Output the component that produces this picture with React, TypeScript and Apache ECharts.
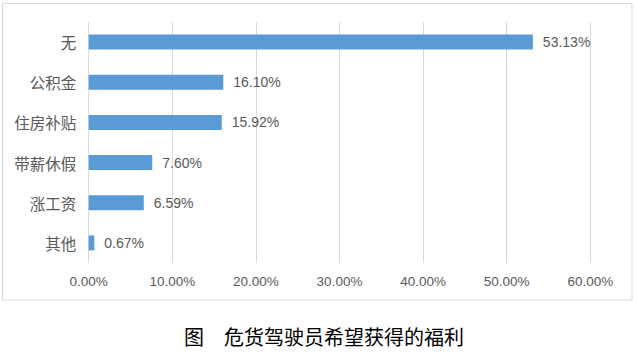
import React, { useEffect, useRef } from "react";
import * as echarts from "echarts";

const categories = ["无", "公积金", "住房补贴", "带薪休假", "涨工资", "其他"];
const values = [53.13, 16.1, 15.92, 7.6, 6.59, 0.67];
const titleText = "图　危货驾驶员希望获得的福利";

const LATIN = "'Liberation Sans', Arial, sans-serif";
const CJK = "'Noto Sans CJK SC', sans-serif";

export default function App() {
  const ref = useRef<HTMLDivElement>(null);
  useEffect(() => {
    if (!ref.current) return;
    const chart = echarts.init(ref.current, undefined, { renderer: "svg" });
    chart.setOption({
      animation: false,
      backgroundColor: "#ffffff",
      grid: { left: 88.7, right: 46.7, top: 22, bottom: 94, containLabel: false },
      xAxis: {
        type: "value",
        min: 0,
        max: 60,
        interval: 10,
        axisLine: { show: false },
        axisTick: { show: false },
        splitLine: { show: true, lineStyle: { color: "#D9D9D9", width: 1 } },
        axisLabel: {
          margin: 11,
          color: "#595959",
          fontSize: 13.5,
          fontFamily: LATIN,
          formatter: (v: number) => v.toFixed(2) + "%",
        },
      },
      yAxis: {
        type: "category",
        data: categories,
        inverse: true,
        axisLine: { show: false },
        axisTick: { show: false },
        splitLine: { show: false },
        axisLabel: {
          margin: 12.5,
          color: "#595959",
          fontSize: 15.5,
          fontFamily: CJK,
        },
      },
      series: [
        {
          type: "bar",
          data: values,
          barWidth: 15,
          itemStyle: { color: "#5B9BD5" },
          label: {
            show: true,
            position: "right",
            distance: 10,
            color: "#595959",
            fontSize: 14,
            fontFamily: LATIN,
            formatter: (p: any) => Number(p.value).toFixed(2) + "%",
          },
        },
      ],
      graphic: [
        {
          type: "rect",
          shape: { x: 2.5, y: 3.5, width: 629.5, height: 296.5 },
          style: { fill: "none", stroke: "#D9D9D9", lineWidth: 1 },
          silent: true,
        },
        {
          type: "text",
          x: 324,
          y: 336,
          style: {
            text: titleText,
            fill: "#000000",
            font: "20px 'Noto Sans CJK SC', sans-serif",
            textAlign: "center",
            textVerticalAlign: "middle",
          },
        },
      ],
    });
    return () => chart.dispose();
  }, []);
  return (
    <div
      ref={ref}
      style={{ position: "fixed", left: 0, top: 0, width: 637, height: 357 }}
    />
  );
}
